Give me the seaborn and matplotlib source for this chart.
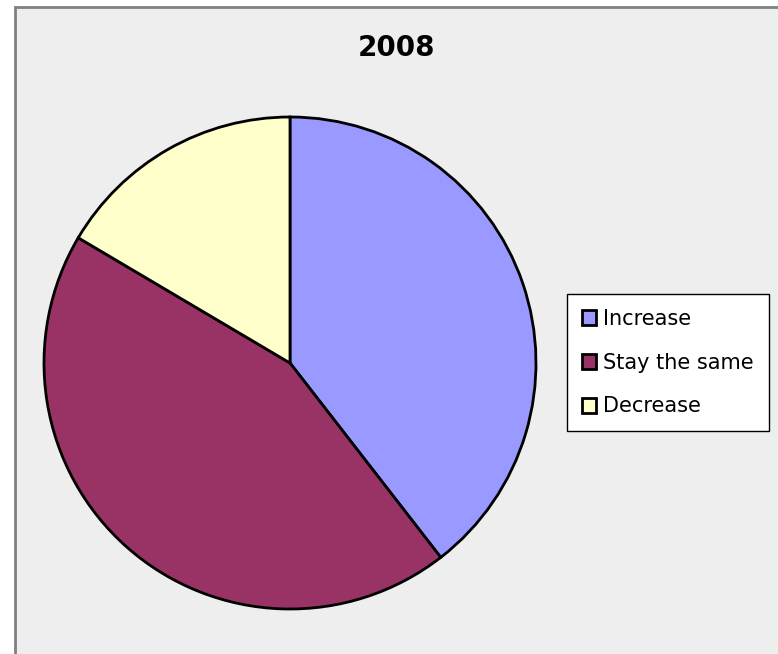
import matplotlib
matplotlib.use("Agg")
import matplotlib.pyplot as plt
import seaborn as sns
from matplotlib.patches import Patch, Rectangle

# data
labels = ["Increase", "Stay the same", "Decrease"]
shares = [39.5, 44.0, 16.5]
title = "2008"

colors = ["#9999FF", "#993366", "#FFFFCC"]

sns.set_theme(style="white")
plt.rcParams['font.family'] = ['DejaVu Sans']
plt.rcParams['text.color'] = 'black'

W, H = 778, 654
fig = plt.figure(figsize=(W / 100, H / 100), dpi=100)
fig.patch.set_facecolor("white")

# chart area with grey border (left/top visible)
fig.patches.append(Rectangle((15 / W, -0.1), 1.2, 1 - 7 / H + 0.1, transform=fig.transFigure,
                             facecolor="#EEEEEE", edgecolor="#808080", linewidth=2, zorder=-10))

# pie: centre (290, 363) px, radius 246 px
cx, cy, r = 290, 363, 246
ax = fig.add_axes([(cx - r) / W, (H - cy - r) / H, 2 * r / W, 2 * r / H])
ax.patch.set_alpha(0)
wedges, _ = ax.pie(shares, colors=colors, startangle=90, counterclock=False, radius=1,
                   wedgeprops=dict(edgecolor="black", linewidth=2))
for w in wedges:
    w.set_clip_on(False)
ax.set_xlim(-1, 1)
ax.set_ylim(-1, 1)
ax.set_aspect("equal")
ax.axis("off")

fig.text(397 / W, 1 - 48 / H, title, ha="center", va="center", fontsize=20,
         fontweight="bold", color="black")

handles = [Patch(facecolor=c, edgecolor="black", linewidth=2) for c in colors]
leg = fig.legend(handles, labels, loc="upper left", bbox_to_anchor=(567 / W, 1 - 294 / H),
                 borderaxespad=0, frameon=True, fancybox=False, framealpha=1,
                 edgecolor="black", fontsize=15, handlelength=0.7, handleheight=0.7,
                 handletextpad=0.35, labelspacing=1.15, borderpad=0.7)
leg.get_frame().set_linewidth(1)
leg.get_frame().set_facecolor("white")
for t in leg.get_texts():
    t.set_color("black")

fig.savefig("out.png", dpi=100)
